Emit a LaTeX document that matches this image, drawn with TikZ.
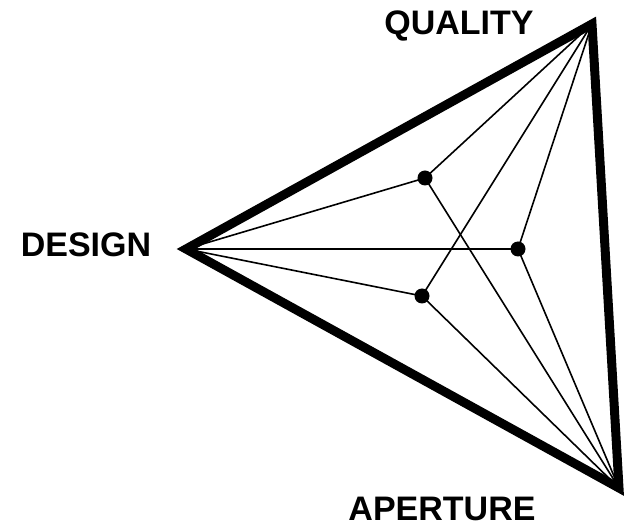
\documentclass[tikz,border=0pt]{standalone}
\usepackage{fontspec}
\setmainfont{Liberation Sans}
\begin{document}
\begin{tikzpicture}[x=1pt,y=-1pt,
  thickedge/.style={line width=9pt,line join=miter,miter limit=20},
  thinedge/.style={line width=1.6pt},
  dot/.style={circle,fill=black,inner sep=0pt,minimum size=15pt},
  lbl/.style={font=\bfseries\fontsize{34}{34}\selectfont,inner sep=0pt,anchor=base}]
\useasboundingbox (0,0) rectangle (633,529);
\coordinate (D) at (186,249);
\coordinate (Q) at (592,24);
\coordinate (A) at (619,488);
\node[dot] (p1) at (425,178) {};
\node[dot] (p2) at (518,249) {};
\node[dot] (p3) at (422,296) {};
\foreach \v in {D,Q,A}{
  \foreach \p in {p1,p2,p3}{
    \draw[thinedge] (\v) -- (\p.center);
  }
}
\draw[thickedge] (D) -- (Q) -- (A) -- cycle;
\node[lbl] (ql) at (459,35) {QUALITY};
\node[lbl] (dl) at (86,257) {DESIGN};
\node[lbl] (al) at (442,521) {APERTURE};
\end{tikzpicture}
\end{document}
